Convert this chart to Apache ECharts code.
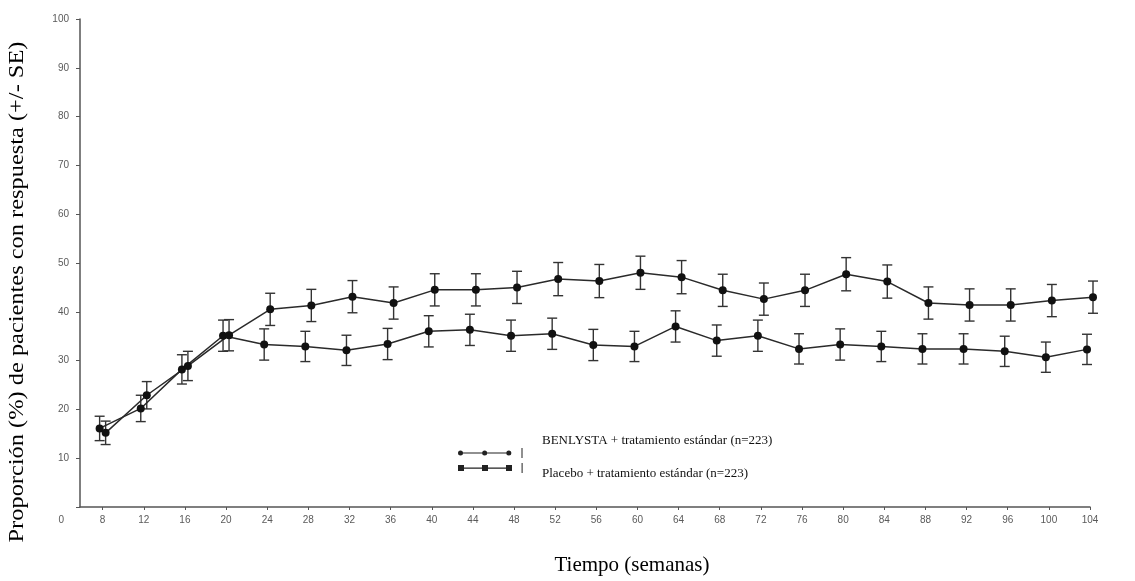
<!DOCTYPE html>
<html>
<head>
<meta charset="utf-8">
<script src="https://cdn.jsdelivr.net/npm/echarts@6/dist/echarts.min.js"></script>
<style>
html,body{margin:0;padding:0;background:#fff;}
#chart{width:1135px;height:581px;}
</style>
</head>
<body>
<div id="chart"></div>
<script>
// ---- data ----
const weeks = [8,12,16,20,24,28,32,36,40,44,48,52,56,60,64,68,72,76,80,84,88,92,96,100,104];
const benlysta = [15.2,22.9,28.9,35.2,40.5,41.3,43.1,41.8,44.5,44.5,45.0,46.7,46.3,48.0,47.1,44.4,42.6,44.4,47.7,46.2,41.8,41.4,41.4,42.3,43.0];
const benlystaSE = [2.4,2.8,3.0,3.2,3.3,3.3,3.3,3.3,3.3,3.3,3.3,3.4,3.4,3.4,3.4,3.3,3.3,3.3,3.4,3.4,3.3,3.3,3.3,3.3,3.3];
const placebo = [16.1,20.2,28.2,35.1,33.3,32.9,32.1,33.4,36.0,36.3,35.1,35.5,33.2,32.9,37.0,34.1,35.1,32.4,33.3,32.9,32.4,32.4,31.9,30.7,32.3];
const placeboSE = [2.5,2.7,3.0,3.2,3.2,3.1,3.1,3.2,3.2,3.2,3.2,3.2,3.2,3.1,3.2,3.2,3.2,3.1,3.2,3.1,3.1,3.1,3.1,3.1,3.1];
const seriesNames = ['BENLYSTA + tratamiento estándar (n=223)', 'Placebo + tratamiento estándar (n=223)'];
const yTitle = 'Proporción (%) de pacientes con respuesta (+/- SE)';
const xTitle = 'Tiempo (semanas)';

// ---- build ----
const chart = echarts.init(document.getElementById('chart'), null, {renderer: 'canvas'});
const X_MIN = 5.8, X_MAX = 104;
const labelColor = '#5a5a5a';
const axisColor = '#555';

function pts(vals){ return weeks.map((w,i)=>[w, vals[i]]); }
function bars(vals, se){ return weeks.map((w,i)=>[w, vals[i]-se[i], vals[i]+se[i]]); }

function errRender(params, api){
  const x = api.value(0), lo = api.value(1), hi = api.value(2);
  const a = api.coord([x, lo]), b = api.coord([x, hi]);
  const hw = 5;
  const st = {stroke:'#333', lineWidth:1.4};
  return {type:'group', children:[
    {type:'line', shape:{x1:a[0],y1:a[1],x2:b[0],y2:b[1]}, style:st},
    {type:'line', shape:{x1:a[0]-hw,y1:a[1],x2:a[0]+hw,y2:a[1]}, style:st},
    {type:'line', shape:{x1:b[0]-hw,y1:b[1],x2:b[0]+hw,y2:b[1]}, style:st}
  ]};
}

function hiddenX(gi){ return {type:'value', gridIndex:gi, min:X_MIN, max:X_MAX, show:false}; }
function hiddenY(gi){ return {type:'value', gridIndex:gi, min:0, max:100, show:false}; }

// legend icons (line with three markers and an error-bar stroke)
const iconCircles = 'path://M3,5.4H51V6.6H3Z M0.5,6a2.5,2.5 0 1,1 5,0a2.5,2.5 0 1,1 -5,0Z M24.5,6a2.5,2.5 0 1,1 5,0a2.5,2.5 0 1,1 -5,0Z M48.5,6a2.5,2.5 0 1,1 5,0a2.5,2.5 0 1,1 -5,0Z M63.6,1H64.6V11H63.6Z M79.9,6H80V6.05H79.9Z';
const iconSquares = 'path://M3,5.4H51V6.6H3Z M0,3H6V9H0Z M24,3H30V9H24Z M48,3H54V9H48Z M63.6,1H64.6V11H63.6Z M79.9,6H80V6.05H79.9Z';

const option = {
  backgroundColor:'#fff',
  animation:false,
  grid:[
    {left:80, right:45, top:19, bottom:74},
    {left:77, right:48, top:19, bottom:74},
    {left:83, right:42, top:19, bottom:74}
  ],
  xAxis:[
    {type:'value', gridIndex:0, min:X_MIN, max:X_MAX,
     axisLine:{show:true, onZero:false, lineStyle:{color:axisColor, width:1.5}},
     axisTick:{show:true, length:3, customValues:weeks, lineStyle:{color:axisColor}},
     axisLabel:{customValues:weeks, color:labelColor, fontSize:10, fontFamily:'Liberation Sans', margin:8},
     splitLine:{show:false}},
    hiddenX(1), hiddenX(2)
  ],
  yAxis:[
    {type:'value', gridIndex:0, min:0, max:100, interval:10,
     axisLine:{show:true, lineStyle:{color:axisColor, width:1.5}},
     axisTick:{show:true, length:4, lineStyle:{color:axisColor}},
     axisLabel:{color:labelColor, fontSize:10, fontFamily:'Liberation Sans', margin:11,
       formatter:function(v){ return v===0 ? '{z|0}' : String(v); },
       rich:{z:{padding:[26,5,0,0], fontSize:10, color:labelColor, fontFamily:'Liberation Sans'}}},
     splitLine:{show:false}},
    hiddenY(1), hiddenY(2)
  ],
  legend:[
    {orient:'vertical', left:453, top:442, itemGap:4, itemWidth:80, itemHeight:12,
     selectedMode:false, data:[{name:seriesNames[0], icon:iconCircles},{name:seriesNames[1], icon:iconSquares}],
     formatter:function(){ return ''; }, itemStyle:{color:'#222'}},
    {orient:'vertical', left:537, top:429, itemGap:20, itemWidth:0, itemHeight:12, icon:'none',
     selectedMode:false, data:seriesNames,
     textStyle:{color:'#111', fontSize:13, fontFamily:'Liberation Serif', padding:[0,0,0,-5]}}
  ],
  graphic:[
    {type:'text', x:18, y:292, rotation:Math.PI/2, scaleX:1.22, style:{text:yTitle, fill:'#000', font:'20px "Liberation Serif"', align:'center', verticalAlign:'middle'}},
    {type:'text', x:632, y:565, style:{text:xTitle, fill:'#000', font:'21px "Liberation Serif"', align:'center', verticalAlign:'middle'}}
  ],
  series:[
    {name:'errP', type:'custom', xAxisIndex:1, yAxisIndex:1, renderItem:errRender,
     encode:{x:0, y:[1,2]}, data:bars(placebo, placeboSE), z:2, silent:true},
    {name:'errB', type:'custom', xAxisIndex:2, yAxisIndex:2, renderItem:errRender,
     encode:{x:0, y:[1,2]}, data:bars(benlysta, benlystaSE), z:2, silent:true},
    {name:seriesNames[1], type:'line', xAxisIndex:1, yAxisIndex:1, data:pts(placebo),
     symbol:'circle', symbolSize:8, lineStyle:{color:'#2a2a2a', width:1.5},
     itemStyle:{color:'#111'}, z:3},
    {name:seriesNames[0], type:'line', xAxisIndex:2, yAxisIndex:2, data:pts(benlysta),
     symbol:'circle', symbolSize:8, lineStyle:{color:'#2a2a2a', width:1.5},
     itemStyle:{color:'#111'}, z:3}
  ]
};
chart.setOption(option);
</script>
</body>
</html>
